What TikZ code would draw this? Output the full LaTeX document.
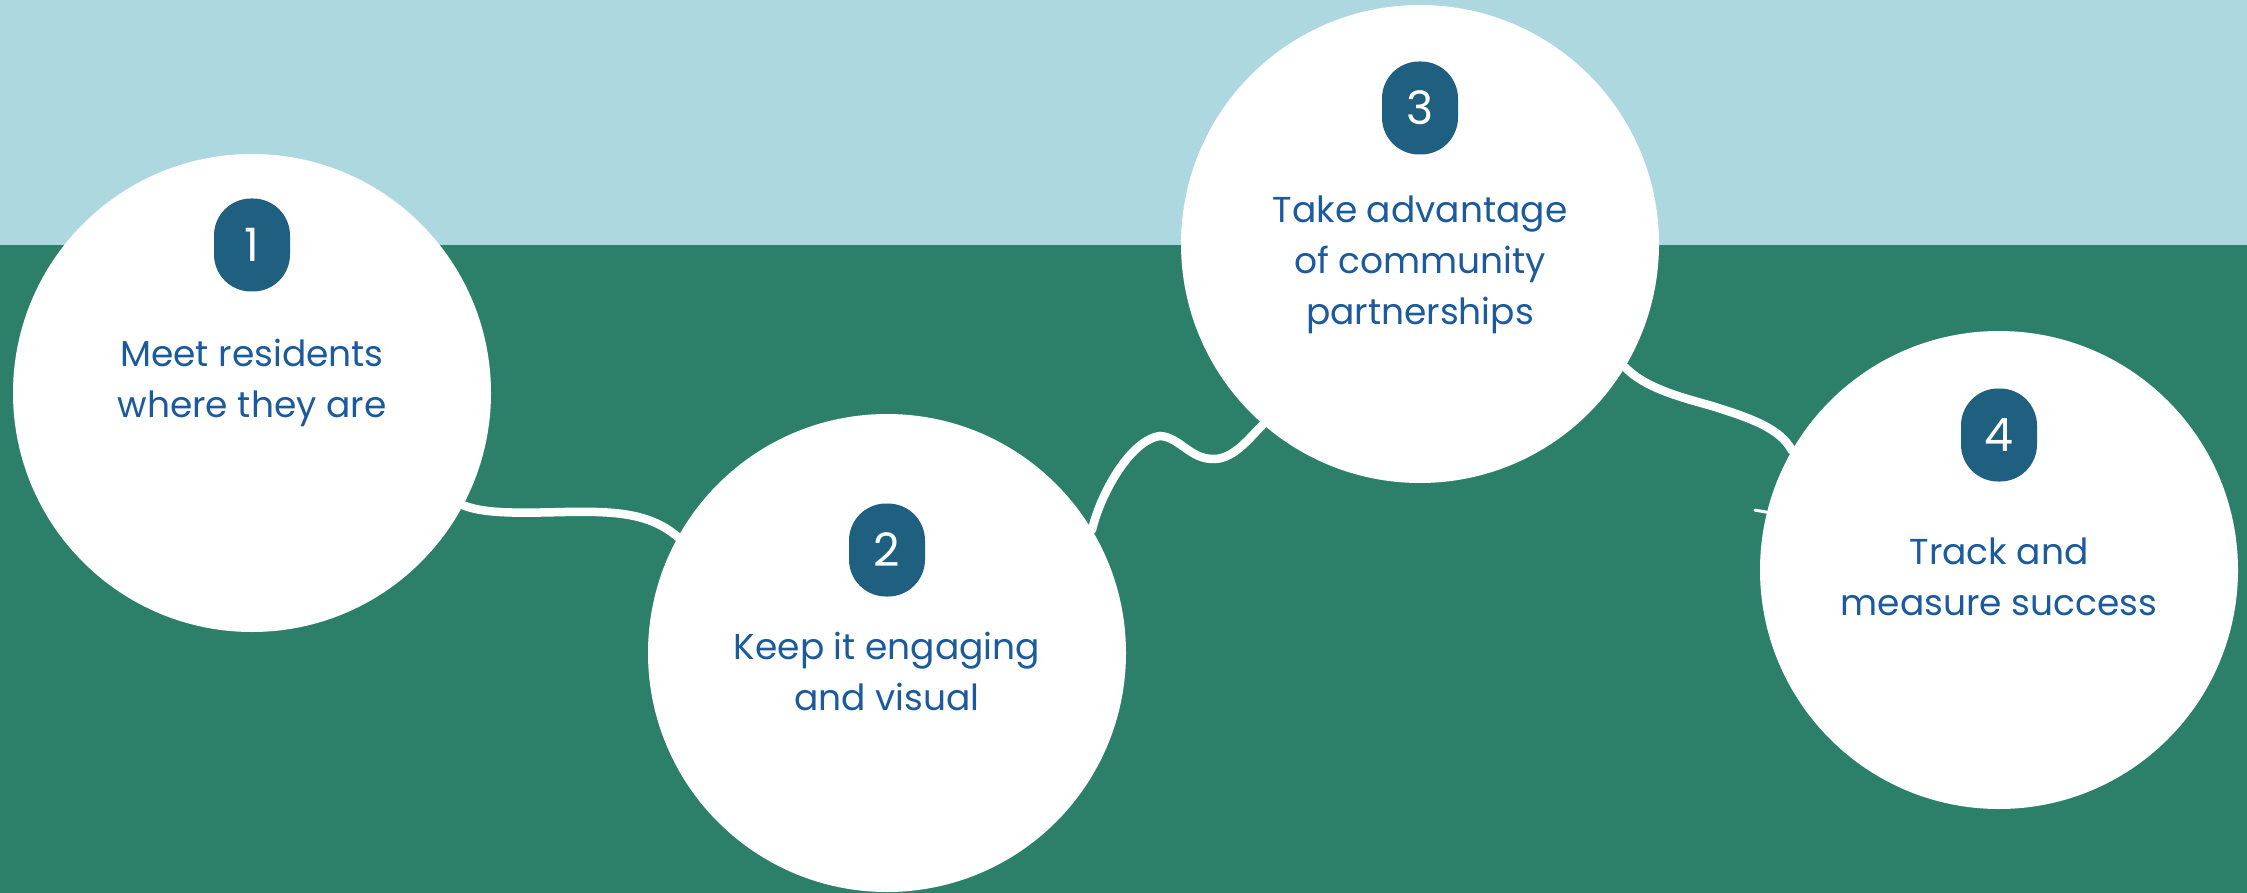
\documentclass[tikz,border=0pt]{standalone}
\usepackage{fontspec}
\setmainfont{Poppins}
\usetikzlibrary{positioning,calc}
\definecolor{sky}    {HTML}{ADD8DF}
\definecolor{field}  {HTML}{2C7F69}
\definecolor{badge}  {HTML}{1F5F80}
\definecolor{caption}{HTML}{1B5A9C}
\tikzset{
  % --- nodes
  spot/.style = {circle, fill=white, minimum size=478pt, inner sep=0pt},
  num/.style  = {rounded corners=37pt, fill=badge, text=white, minimum width=76pt,
                 minimum height=93pt, inner sep=0pt, font=\fontsize{46}{46}\selectfont},
  txt/.style  = {align=center, text=caption, font=\fontsize{36}{51}\selectfont},
  % --- edges
  link/.style = {draw=white, line width=8.5pt, line cap=round},
}

\begin{document}
\begin{tikzpicture}[x=1pt,y=-1pt]
  \useasboundingbox (0,0) rectangle (2247,893);
  \fill[field] (0,0) rectangle (2247,893);
  \fill[sky] (0,0) rectangle (2247,245);
  % circles
  \node[spot] (c1) at (252,393) {};
  \node[spot] (c2) at (887,653) {};
  \node[spot] (c3) at (1420,244) {};
  \node[spot] (c4) at (1999,570) {};
  % wavy links
  \draw[link] (c1.-28.5) .. controls (485,514) and (520,513) .. (565,512)
              .. controls (615,511) and (650,513) .. (c2.151);
  \draw[link] (c2.31.8) .. controls (1100,495) and (1130,440) .. (1160,436)
              .. controls (1180,437) and (1190,460) .. (1215,459)
              .. controls (1235,458) and (1250,437) .. (c3.-131.6);
  \draw[link] (c3.-31.4) .. controls (1645,388) and (1680,397) .. (1712,406)
              .. controls (1750,418) and (1780,428) .. (c4.150.5);
  \draw[link, line width=3pt] (c4.166) -- ++(-12,-2);
  % badges
  \node[num] (n1) at (252,245) {1};
  \node[num] (n2) at (887,550) {2};
  \node[num] (n3) at (1420,108) {3};
  \node[num] (n4) at (1999,435) {4};
  % captions
  \node[txt] (t1) at (252,383) {Meet residents\\where they are};
  \node[txt] (t2) at (887,671) {Keep it engaging\\and visual};
  \node[txt] (t3) at (1420,265) {Take advantage\\of community\\partnerships};
  \node[txt] (t4) at (1999,577) {Track and\\measure success};
\end{tikzpicture}
\end{document}
